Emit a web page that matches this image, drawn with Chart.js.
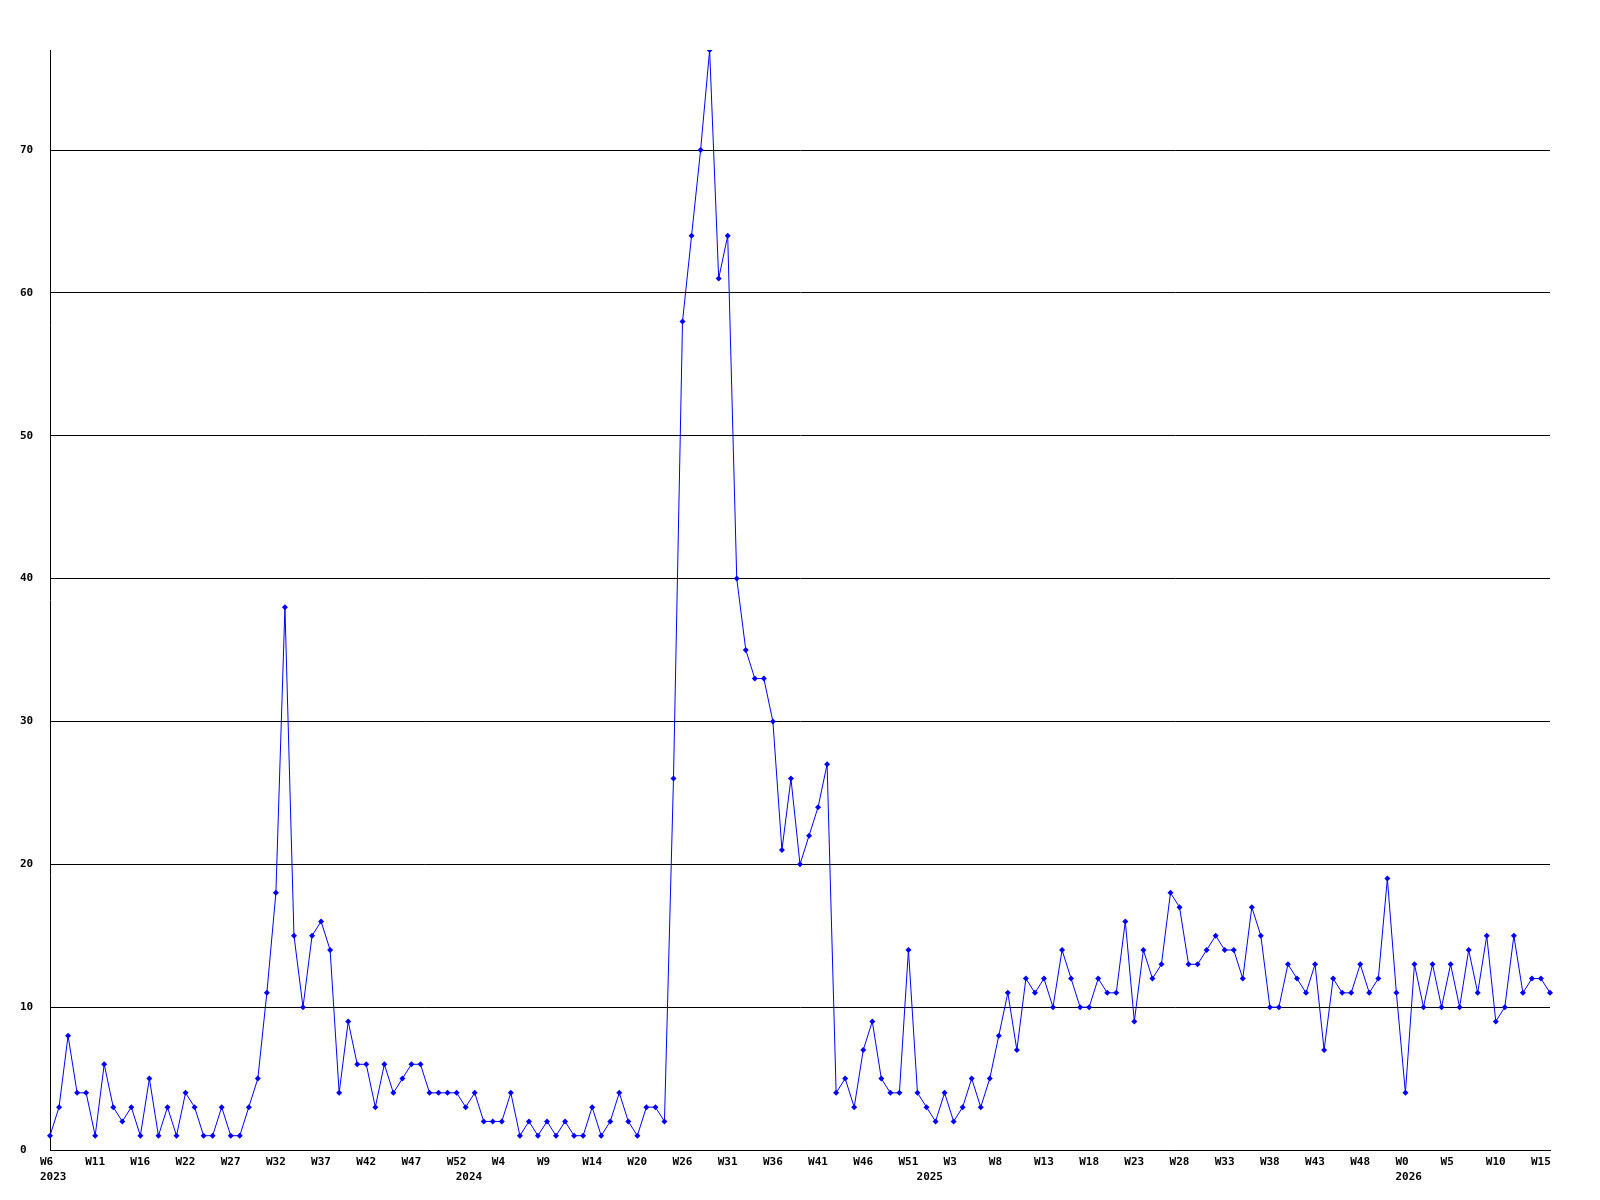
<!DOCTYPE html>
<html>
<head>
<meta charset="utf-8">
<script src="https://cdn.jsdelivr.net/npm/chart.js@4/dist/chart.umd.min.js"></script>
<style>
  html, body { margin: 0; padding: 0; background: #ffffff; }
  #wrap { width: 1600px; height: 1200px; }
</style>
</head>
<body>
<div id="wrap"><canvas id="c" width="1600" height="1200"></canvas></div>
<script>
// Weekly values, one per week, from 2023 W6 onward
const values = [
  1, 3, 8, 4, 4, 1, 6, 3, 2, 3, 1, 5, 1, 3, 1, 4, 3, 1, 1, 3, 1, 1, 3, 5, 11, 18,
  38,
  15, 10, 15, 16, 14, 4, 9, 6, 6, 3, 6, 4, 5, 6, 6, 4, 4, 4, 4, 3, 4, 2, 2, 2, 4, 1, 2, 1, 2, 1, 2, 1,
  1, 3, 1, 2, 4, 2, 1, 3, 3, 2,
  26, 58, 64, 70, 77, 61, 64, 40, 35, 33, 33, 30, 21, 26, 20, 22, 24, 27,
  4, 5, 3, 7, 9, 5, 4, 4, 14, 4, 3, 2, 4, 2, 3, 5, 3, 5, 8, 11, 7, 12, 11, 12, 10, 14, 12, 10, 10, 12, 11, 11, 16, 9,
  14, 12, 13, 18, 17, 13, 13, 14, 15, 14, 14, 12, 17, 15, 10, 10, 13, 12, 11, 13, 7, 12, 11, 11, 13, 11, 12, 19, 11, 4, 13,
  10, 13, 10, 13, 10, 14, 11, 15, 9, 10, 15, 11, 12, 12, 11
];

// Week tick labels shown on every 5th point
const weekTicks = [
  'W6', 'W11', 'W16', 'W22', 'W27', 'W32', 'W37', 'W42', 'W47', 'W52',
  'W4', 'W9', 'W14', 'W20', 'W26', 'W31', 'W36', 'W41', 'W46', 'W51',
  'W3', 'W8', 'W13', 'W18', 'W23', 'W28', 'W33', 'W38', 'W43', 'W48',
  'W0', 'W5', 'W10', 'W15'
];
const tickEvery = 5;

// Year labels and the point index where each year starts
const years = ['2023', '2024', '2025', '2026'];
const yearStartIndex = [0, 46, 97, 150];

const yMax = 77;
const yStep = 10;

const labels = values.map((_, i) => i);

const tickFont = { family: '"DejaVu Sans Mono", monospace', size: 11, weight: 'bold', lineHeight: '15px' };

new Chart(document.getElementById('c'), {
  type: 'line',
  data: {
    labels: labels,
    datasets: [{
      data: values,
      borderColor: '#0000ff',
      backgroundColor: '#0000ff',
      borderWidth: 1,
      tension: 0,
      fill: false,
      pointStyle: 'rectRot',
      pointRadius: 3,
      pointBorderWidth: 0,
      pointBackgroundColor: '#0000ff'
    }]
  },
  options: {
    responsive: false,
    animation: false,
    devicePixelRatio: 1,
    layout: { padding: { left: 20, right: 50, top: 50, bottom: 0 } },
    plugins: { legend: { display: false }, tooltip: { enabled: false } },
    scales: {
      x: {
        type: 'category',
        offset: false,
        grid: { display: false, drawTicks: false },
        border: { display: true, color: '#000000', width: 1 },
        ticks: {
          autoSkip: false,
          maxRotation: 0,
          minRotation: 0,
          align: 'start',
          labelOffset: -10,
          padding: 5,
          color: '#000000',
          font: tickFont,
          callback: function (value, index) {
            const w = (index % tickEvery === 0) ? weekTicks[index / tickEvery] : '';
            const yi = yearStartIndex.indexOf(index);
            if (yi >= 0) return [w || '', years[yi]];
            return w || '';
          }
        },
        afterFit: function (scale) { scale.height = 50; }
      },
      y: {
        min: 0,
        max: yMax,
        grid: { color: '#000000', lineWidth: 1, drawTicks: false },
        border: { display: true, color: '#000000', width: 1 },
        ticks: {
          stepSize: yStep,
          crossAlign: 'far',
          color: '#000000',
          font: tickFont,
          padding: 4
        },
        afterBuildTicks: function (scale) {
          scale.ticks = scale.ticks.filter(t => t.value % yStep === 0);
        },
        afterFit: function (scale) { scale.width = 30; }
      }
    }
  }
});
</script>
</body>
</html>
